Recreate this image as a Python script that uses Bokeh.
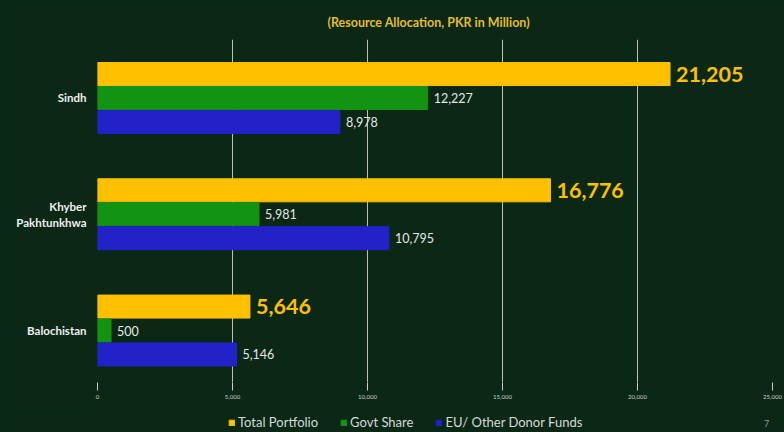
from bokeh.plotting import figure
from bokeh.layouts import column
from bokeh.models import Range1d, FixedTicker, Legend, LegendItem, NumeralTickFormatter
from bokeh.core.properties import value
from bokeh.embed import file_html
from bokeh.resources import INLINE

provinces = ["Sindh", "Khyber\nPakhtunkhwa", "Balochistan"]
total_portfolio = [21205, 16776, 5646]
govt_share = [12227, 5981, 500]
eu_donor = [8978, 10795, 5146]
series_names = ["Total Portfolio", "Govt Share", "EU/ Other Donor Funds"]
x_ticks = [0, 5000, 10000, 15000, 20000, 25000]
page_number = "7"

BG = "#0a2815"
YEL = "#ffc000"
GRN = "#129412"
BLU = "#2222c8"
COLORS = [YEL, GRN, BLU]
FONT = "Lato"

p = figure(frame_width=675, frame_height=343, output_backend="svg", toolbar_location=None,
           x_range=Range1d(0, 25000), y_range=Range1d(2.447, -0.503),
           min_border_left=97, min_border_right=12, min_border_top=39, min_border_bottom=26)
p.background_fill_color = BG
p.border_fill_color = BG
p.outline_line_color = None

p.title.text = "(Resource Allocation, PKR in Million)"
p.title.align = "left"
p.title.offset = 230
p.title.standoff = 20
p.title.text_color = "#e2bd2a"
p.title.text_font = FONT
p.title.text_font_size = "12.5px"
p.title.text_font_style = "bold"

idx = list(range(len(provinces)))
off = 0.206
h = 0.198
p.hbar(y=[i - off for i in idx], left=0, right=total_portfolio, height=h, color=YEL)
p.hbar(y=idx, left=0, right=govt_share, height=h, color=GRN)
p.hbar(y=[i + off for i in idx], left=0, right=eu_donor, height=h, color=BLU)

p.text(x=total_portfolio, y=[i - off for i in idx], text=[f"{v:,}" for v in total_portfolio],
       x_offset=6, text_baseline="middle", text_color=YEL, text_font=value(FONT),
       text_font_size="21.5px", text_font_style="bold")
p.text(x=govt_share, y=idx, text=[f"{v:,}" for v in govt_share],
       x_offset=6, text_baseline="middle", text_color="#e6e6e6", text_font=value(FONT),
       text_font_size="12.5px")
p.text(x=eu_donor, y=[i + off for i in idx], text=[f"{v:,}" for v in eu_donor],
       x_offset=6, text_baseline="middle", text_color="#e6e6e6", text_font=value(FONT),
       text_font_size="12.5px")

# x axis
xa = p.xaxis[0]
xa.ticker = FixedTicker(ticks=x_ticks)
xa.formatter = NumeralTickFormatter(format="0,0")
xa.axis_line_color = None
xa.major_tick_out = 8
xa.major_tick_in = 0
xa.major_tick_line_color = "#d0d0d0"
xa.minor_tick_line_color = None
xa.major_label_text_font_size = "6px"
xa.major_label_text_color = "#cfcfcf"
xa.major_label_text_font = FONT
xa.major_label_standoff = 4

# y axis
ya = p.yaxis[0]
ya.ticker = FixedTicker(ticks=idx)
ya.major_label_overrides = {i: provinces[i] for i in idx}
ya.axis_line_color = None
ya.major_tick_line_color = None
ya.major_tick_out = 0
ya.major_tick_in = 0
ya.minor_tick_line_color = None
ya.major_label_text_color = "#f0f0f0"
ya.major_label_text_font = FONT
ya.major_label_text_font_style = "bold"
ya.major_label_text_font_size = "11.5px"
ya.major_label_standoff = 11

p.xgrid.ticker = FixedTicker(ticks=x_ticks)
p.xgrid.grid_line_color = "#d0d0d0"
p.xgrid.grid_line_alpha = 0.9
p.ygrid.grid_line_color = None

# legend strip below the chart (its frame aligns with the chart frame: 675 px wide)
lf = figure(width=784, height=24, output_backend="svg", toolbar_location=None,
            x_range=Range1d(0, 675), y_range=Range1d(0, 24),
            x_axis_type=None, y_axis_type=None,
            min_border_left=0, min_border_right=0, min_border_top=0, min_border_bottom=0)
lf.background_fill_color = BG
lf.border_fill_color = BG
lf.outline_line_color = None
lf.xgrid.grid_line_color = None
lf.ygrid.grid_line_color = None

items = []
for name, c in zip(series_names, COLORS):
    # legend swatch carriers, placed outside the visible range
    r = lf.hbar(y=[-50], left=[0], right=[1], height=1, color=c)
    items.append(LegendItem(label=name, renderers=[r]))

legend = Legend(items=items, orientation="horizontal", location=(131, 2),
                background_fill_alpha=0, border_line_alpha=0,
                label_text_color="#d8d8d8", label_text_font=FONT, label_text_font_size="13px",
                glyph_width=7, glyph_height=7, label_standoff=3, spacing=22,
                padding=0, margin=0)
lf.add_layout(legend)

lf.text(x=[669], y=[9], text=[page_number], text_baseline="middle", text_align="center",
        text_color="#9a9a9a", text_font=value(FONT), text_font_size="9px")

layout = column(p, lf, spacing=0)

html = file_html(layout, INLINE)
html = html.replace("</head>", "<style>html, body { background: #0a2815; }</style></head>")
open("out.html", "w").write(html)
